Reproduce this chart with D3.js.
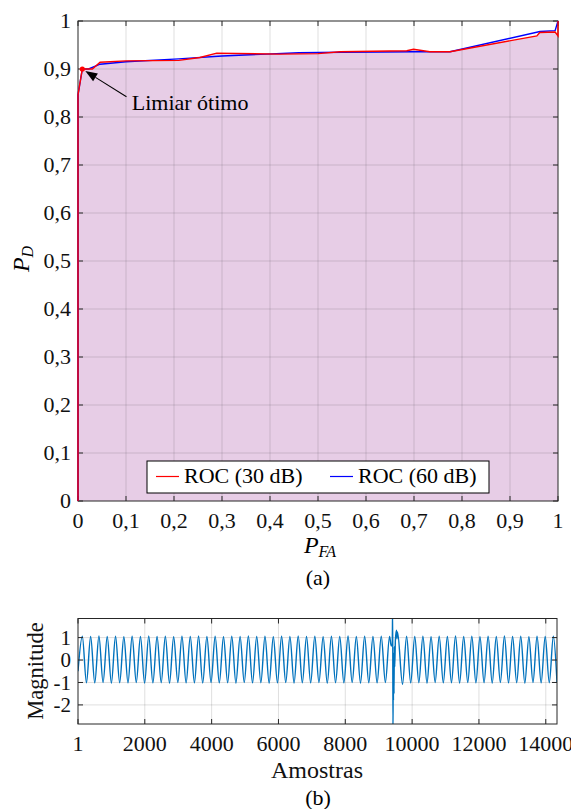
<!DOCTYPE html>
<html><head><meta charset="utf-8">
<script src="https://cdn.jsdelivr.net/npm/d3@7"></script>
<style>
body{margin:0;background:#fff}
svg{display:block}
</style>
</head><body>
<svg id="c" width="571" height="809"></svg>
<script>
// ---------- DATA ----------
const rocTicks = [0,0.1,0.2,0.3,0.4,0.5,0.6,0.7,0.8,0.9,1];
const rocTickLabels = ["0","0,1","0,2","0,3","0,4","0,5","0,6","0,7","0,8","0,9","1"];
// ROC (30 dB): [P_FA, P_D]
const roc30 = [[0,0],[0,0.846],[0.009,0.9],[0.03,0.9],[0.046,0.914],[0.1,0.917],[0.21,0.918],
  [0.254,0.924],[0.289,0.933],[0.42,0.931],[0.5,0.932],[0.546,0.936],[0.685,0.938],[0.699,0.941],
  [0.733,0.936],[0.775,0.936],[0.956,0.969],[0.962,0.976],[0.994,0.977],[1,0.969],[1,1]];
// ROC (60 dB)
const roc60 = [[0,0],[0,0.846],[0.009,0.9],[0.022,0.9],[0.046,0.91],[0.1,0.915],[0.21,0.921],
  [0.3,0.927],[0.46,0.934],[0.55,0.935],[0.7,0.936],[0.775,0.936],[0.9625,0.978],[0.994,0.98],[1,1]];
const optimalPoint = [0.009,0.9];
const annotationText = "Limiar ótimo";
const annotationAnchor = [0.112,0.815];
const arrowTail = [0.101,0.842];
const legendLabels = ["ROC (30 dB)","ROC (60 dB)"];
const seriesColors = ["#ff0000","#0000ff"];

const sigXTicks = [1,2000,4000,6000,8000,10000,12000,14000];
const sigXTickLabels = ["1","2000","4000","6000","8000","10000","12000","14000"];
const sigYTicks = [-2,-1,0,1];
const sigYTickLabels = ["-2","-1","0","1"];
const sigXDomain = [1,14336];
const sigYDomain = [-2.85,1.85];
// signal extrema: [sample, magnitude]
const signalExtrema = [[1,-0.5],
 [130,1.06],[254,-1.01],[379,1.05],[503,-1.02],[627,1.07],[751,-1.0],[876,1.05],[1000,-1.03],
 [1124,1.06],[1248,-1.01],[1373,1.04],[1497,-1.02],[1621,1.06],[1745,-1.0],[1870,1.05],[1994,-1.03],
 [2118,1.07],[2242,-1.02],[2367,1.05],[2491,-1.01],[2615,1.06],[2739,-1.03],[2864,1.04],[2988,-1.0],
 [3112,1.06],[3236,-1.02],[3361,1.05],[3485,-1.01],[3609,1.07],[3733,-1.03],[3858,1.05],[3982,-1.0],
 [4106,1.06],[4230,-1.02],[4355,1.04],[4479,-1.01],[4603,1.06],[4727,-1.03],[4852,1.05],[4976,-1.0],
 [5100,1.07],[5224,-1.02],[5349,1.05],[5473,-1.01],[5597,1.06],[5721,-1.03],[5846,1.04],[5970,-1.02],
 [6094,1.06],[6218,-1.0],[6343,1.05],[6467,-1.03],[6591,1.07],[6715,-1.01],[6840,1.05],[6964,-1.02],
 [7088,1.06],[7212,-1.0],[7337,1.04],[7461,-1.03],[7585,1.06],[7709,-1.01],[7834,1.05],[7958,-1.02],
 [8082,1.07],[8206,-1.0],[8331,1.05],[8455,-1.03],[8579,1.06],[8703,-1.01],[8828,1.05],[8952,-1.02],
 [9076,1.06],[9200,-1.0],[9325,1.05],
 [9375,0.62],[9405,0.72],[9418,2.3],[9427,-3.2],[9435,-0.7],[9442,-1.8],[9450,0.3],[9458,-1.5],
 [9468,0.6],[9480,-0.3],[9500,0.9],[9532,1.33],[9548,0.95],[9563,1.25],
 [9713,-1.08],[9835,1.06],[9957,-1.02],[10079,1.05],[10201,-1.01],[10323,1.06],[10445,-1.03],[10567,1.04],
 [10689,-1.0],[10811,1.06],[10933,-1.02],[11055,1.05],[11177,-1.01],[11299,1.07],[11421,-1.03],[11543,1.05],
 [11665,-1.0],[11787,1.06],[11909,-1.02],[12031,1.04],[12153,-1.01],[12275,1.06],[12397,-1.03],[12519,1.05],
 [12641,-1.0],[12763,1.07],[12885,-1.02],[13007,1.05],[13129,-1.01],[13251,1.06],[13373,-1.03],[13495,1.04],
 [13617,-1.0],[13739,1.06],[13861,-1.02],[13983,1.05],[14105,-1.01],[14227,1.06],[14336,-1.0]];

// ---------- LAYOUT ----------
const FONT = "'Liberation Serif', 'Times New Roman', Times, 'DejaVu Serif', serif";
const svg = d3.select("#c").attr("font-family", FONT);
svg.append("rect").attr("width",571).attr("height",809).attr("fill","#fff");
const axisColor = "#262626", gridColor = "rgba(38,38,38,0.15)";
const FS = 22, tickLen = 5;

// ===== TOP: ROC =====
const A = {l:78, r:558, t:21, b:501};
const x = d3.scaleLinear().domain([0,1]).range([A.l,A.r]);
const y = d3.scaleLinear().domain([0,1]).range([A.b,A.t]);
const gA = svg.append("g");
svg.append("clipPath").attr("id","clipA").append("rect")
  .attr("x",A.l-2).attr("y",A.t-2).attr("width",A.r-A.l+4).attr("height",A.b-A.t+4);

gA.append("path").datum(roc30)
  .attr("d", d3.area().x(d=>x(d[0])).y0(y(0)).y1(d=>y(d[1])))
  .attr("fill","rgb(231,205,230)").attr("clip-path","url(#clipA)");

gA.append("g").selectAll("line").data(rocTicks.slice(1,-1)).join("line")
  .attr("x1",d=>x(d)).attr("x2",d=>x(d)).attr("y1",A.t).attr("y2",A.b)
  .attr("stroke",gridColor);
gA.append("g").selectAll("line").data(rocTicks.slice(1,-1)).join("line")
  .attr("y1",d=>y(d)).attr("y2",d=>y(d)).attr("x1",A.l).attr("x2",A.r)
  .attr("stroke",gridColor);

function boxAxes(g, xs, ys, xt, yt, box){
  g.append("rect").attr("x",box.l).attr("y",box.t).attr("width",box.r-box.l).attr("height",box.b-box.t)
    .attr("fill","none").attr("stroke",axisColor).attr("stroke-width",1);
  const gt = g.append("g").attr("stroke",axisColor).attr("stroke-width",1);
  xt.forEach(v=>{
    gt.append("line").attr("x1",xs(v)).attr("x2",xs(v)).attr("y1",box.b).attr("y2",box.b-tickLen);
    gt.append("line").attr("x1",xs(v)).attr("x2",xs(v)).attr("y1",box.t).attr("y2",box.t+tickLen);
  });
  yt.forEach(v=>{
    gt.append("line").attr("y1",ys(v)).attr("y2",ys(v)).attr("x1",box.l).attr("x2",box.l+tickLen);
    gt.append("line").attr("y1",ys(v)).attr("y2",ys(v)).attr("x1",box.r).attr("x2",box.r-tickLen);
  });
}
boxAxes(gA, x, y, rocTicks, rocTicks, A);

gA.append("g").selectAll("text").data(rocTicks).join("text")
  .attr("x",d=>x(d)).attr("y",A.b+27).attr("text-anchor","middle").attr("font-size",FS).attr("fill","#111")
  .text((d,i)=>rocTickLabels[i]);
gA.append("g").selectAll("text").data(rocTicks).join("text")
  .attr("x",A.l-7).attr("y",d=>y(d)+7.4).attr("text-anchor","end").attr("font-size",FS).attr("fill","#111")
  .text((d,i)=>rocTickLabels[i]);

const line = d3.line().x(d=>x(d[0])).y(d=>y(d[1]));
gA.append("path").datum(roc60).attr("d",line).attr("fill","none")
  .attr("stroke",seriesColors[1]).attr("stroke-width",1.4).attr("clip-path","url(#clipA)");
gA.append("path").datum(roc30).attr("d",line).attr("fill","none")
  .attr("stroke",seriesColors[0]).attr("stroke-width",1.4).attr("clip-path","url(#clipA)");
gA.append("circle").attr("cx",x(optimalPoint[0])).attr("cy",y(optimalPoint[1])).attr("r",2.6)
  .attr("fill",seriesColors[0]);

{
  const tx = x(optimalPoint[0])+3, ty = y(optimalPoint[1])+2;
  const sx = x(arrowTail[0]), sy = y(arrowTail[1]);
  const ang = Math.atan2(ty-sy, tx-sx), hl = 12, hw = 4.5;
  const bx = tx - hl*Math.cos(ang), by = ty - hl*Math.sin(ang);
  gA.append("line").attr("x1",sx).attr("y1",sy).attr("x2",bx).attr("y2",by)
    .attr("stroke","#000").attr("stroke-width",1.1);
  const px = -Math.sin(ang), py = Math.cos(ang);
  gA.append("path").attr("d",`M${tx},${ty}L${bx+px*hw},${by+py*hw}L${bx-px*hw},${by-py*hw}Z`)
    .attr("fill","#000");
  gA.append("text").attr("x",x(annotationAnchor[0])).attr("y",y(annotationAnchor[1]))
    .attr("font-size",FS).attr("fill","#000").text(annotationText);
}

{
  const L = {x:147, y:461, w:342, h:32};
  const lg = gA.append("g");
  lg.append("rect").attr("x",L.x).attr("y",L.y).attr("width",L.w).attr("height",L.h)
    .attr("fill","#fff").attr("stroke","#000").attr("stroke-width",1);
  const entryX = [L.x+9, L.x+183];
  legendLabels.forEach((lab,i)=>{
    lg.append("line").attr("x1",entryX[i]).attr("x2",entryX[i]+23).attr("y1",L.y+15.5).attr("y2",L.y+15.5)
      .attr("stroke",seriesColors[i]).attr("stroke-width",1.2);
    lg.append("text").attr("x",entryX[i]+28).attr("y",L.y+22).attr("font-size",FS).attr("fill","#000").text(lab);
  });
}

{
  const t = gA.append("text").attr("x",320).attr("y",553).attr("text-anchor","middle").attr("font-size",24).attr("fill","#000");
  t.append("tspan").attr("font-style","italic").text("P");
  t.append("tspan").attr("font-style","italic").attr("font-size",16).attr("dy",4).text("FA");
  const t2 = gA.append("text").attr("transform","translate(29,259) rotate(-90)").attr("text-anchor","middle").attr("font-size",24).attr("fill","#000");
  t2.append("tspan").attr("font-style","italic").text("P");
  t2.append("tspan").attr("font-style","italic").attr("font-size",16).attr("dy",4).text("D");
  gA.append("text").attr("x",318).attr("y",585).attr("text-anchor","middle").attr("font-size",FS).attr("fill","#000").text("(a)");
}

// ===== BOTTOM: signal =====
const B = {l:78, r:557, t:618.5, b:724};
const xs = d3.scaleLinear().domain(sigXDomain).range([B.l,B.r]);
const ys = d3.scaleLinear().domain(sigYDomain).range([B.b,B.t]);
const gB = svg.append("g");
svg.append("clipPath").attr("id","clipB").append("rect")
  .attr("x",B.l).attr("y",B.t).attr("width",B.r-B.l).attr("height",B.b-B.t);
gB.append("g").selectAll("line").data(sigXTicks.slice(1)).join("line")
  .attr("x1",d=>xs(d)).attr("x2",d=>xs(d)).attr("y1",B.t).attr("y2",B.b).attr("stroke",gridColor);
gB.append("g").selectAll("line").data(sigYTicks).join("line")
  .attr("y1",d=>ys(d)).attr("y2",d=>ys(d)).attr("x1",B.l).attr("x2",B.r).attr("stroke",gridColor);

gB.append("path").datum(signalExtrema)
  .attr("d", d3.line().x(d=>xs(d[0])).y(d=>ys(d[1])).curve(d3.curveMonotoneX))
  .attr("fill","none").attr("stroke","#0072BD").attr("stroke-width",1.4)
  .attr("clip-path","url(#clipB)");

boxAxes(gB, xs, ys, sigXTicks, sigYTicks, B);

gB.append("g").selectAll("text").data(sigXTicks).join("text")
  .attr("x",d=>xs(d)).attr("y",751).attr("text-anchor","middle").attr("font-size",FS).attr("fill","#111")
  .text((d,i)=>sigXTickLabels[i]);
gB.append("g").selectAll("text").data(sigYTicks).join("text")
  .attr("x",B.l-7).attr("y",d=>ys(d)+7.4).attr("text-anchor","end").attr("font-size",21).attr("fill","#111")
  .text((d,i)=>sigYTickLabels[i]);
gB.append("text").attr("x",317).attr("y",778).attr("text-anchor","middle").attr("font-size",24).attr("fill","#111").text("Amostras");
gB.append("text").attr("transform","translate(43,671) rotate(-90)").attr("text-anchor","middle")
  .attr("font-size",22.5).attr("fill","#111").text("Magnitude");
gB.append("text").attr("x",318).attr("y",805).attr("text-anchor","middle").attr("font-size",FS).attr("fill","#000").text("(b)");
</script>
</body></html>
